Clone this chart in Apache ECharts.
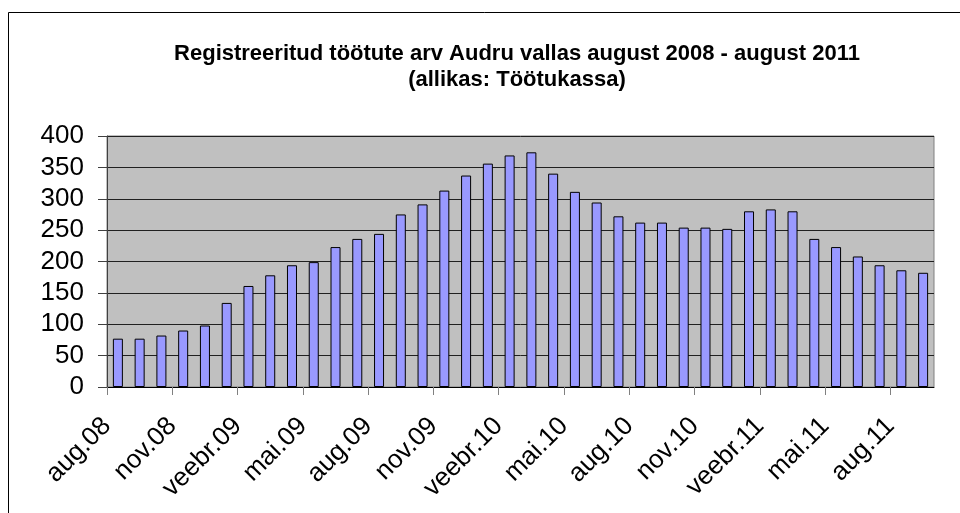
<!DOCTYPE html>
<html>
<head>
<meta charset="utf-8">
<script src="https://cdn.jsdelivr.net/npm/echarts@6/dist/echarts.min.js"></script>
<style>
  html, body { margin: 0; padding: 0; background: #fff; }
  #chart { width: 960px; height: 513px; }
</style>
</head>
<body>
<div id="chart"></div>
<script>
// months aug.08 .. sept.11
const months = [
  "aug.08", "sept.08", "okt.08", "nov.08", "dets.08", "jaan.09", "veebr.09", "märts.09", "apr.09", "mai.09", "juuni.09", "juuli.09",
  "aug.09", "sept.09", "okt.09", "nov.09", "dets.09", "jaan.10", "veebr.10", "märts.10", "apr.10", "mai.10", "juuni.10", "juuli.10",
  "aug.10", "sept.10", "okt.10", "nov.10", "dets.10", "jaan.11", "veebr.11", "märts.11", "apr.11", "mai.11", "juuni.11", "juuli.11",
  "aug.11", "sept.11"
];
const unemployed = [
  77, 77, 82, 90, 98, 134, 161, 178, 194, 199, 223, 236,
  244, 275, 291, 313, 337, 356, 369, 374, 340, 311, 294, 272,
  262, 262, 254, 254, 252, 280, 283, 280, 236, 223, 208, 194,
  186, 182
];
const yTicks = { min: 0, max: 400, step: 50 };

// labels and ticks in the source sit on the category boundaries
const boundaryLabels = months.concat([""]);

const chart = echarts.init(document.getElementById("chart"));
const font = "Liberation Sans, Arial, sans-serif";

chart.setOption({
  animation: false,
  backgroundColor: "#fff",
  textStyle: { fontFamily: font },
  graphic: [
    {
      type: "rect",
      shape: { x: 8.5, y: 12.5, width: 980, height: 540 },
      style: { fill: "none", stroke: "#000", lineWidth: 1 },
      silent: true
    }
  ],
  title: {
    text: "Registreeritud töötute arv Audru vallas august 2008 - august 2011\n(allikas: Töötukassa)",
    left: 512,
    top: 36,
    textAlign: "center",
    textStyle: {
      fontFamily: font,
      fontSize: 22,
      fontWeight: "bold",
      color: "#000",
      lineHeight: 26
    }
  },
  grid: {
    left: 107,
    right: 26,
    top: 136,
    bottom: 126,
    show: true,
    backgroundColor: "#C0C0C0",
    borderColor: "#808080",
    borderWidth: 1
  },
  xAxis: [
    {
      type: "category",
      data: months,
      boundaryGap: true,
      position: "bottom",
      axisLine: { lineStyle: { color: "#000", width: 1 } },
      axisTick: { show: false },
      axisLabel: { show: false },
      splitLine: { show: false }
    },
    {
      type: "category",
      data: boundaryLabels,
      boundaryGap: false,
      position: "bottom",
      axisLine: { show: false },
      axisTick: { show: true, interval: 2, length: 8, lineStyle: { color: "#808080" } },
      axisLabel: {
        interval: 2,
        rotate: 45,
        margin: 35,
        fontSize: 26,
        color: "#000",
        fontFamily: font
      },
      splitLine: { show: false }
    }
  ],
  yAxis: {
    type: "value",
    min: yTicks.min,
    max: yTicks.max,
    interval: yTicks.step,
    axisLine: { show: true, lineStyle: { color: "#404040", width: 1 } },
    axisTick: { show: true, length: 9, lineStyle: { color: "#404040" } },
    axisLabel: { margin: 23, fontSize: 26, color: "#000", fontFamily: font },
    splitLine: { show: true, lineStyle: { color: "#202020", width: 1 } }
  },
  series: [
    {
      type: "bar",
      xAxisIndex: 0,
      data: unemployed,
      barWidth: "46%",
      itemStyle: { color: "#9999FF", borderColor: "#000", borderWidth: 1 }
    }
  ]
});
</script>
</body>
</html>
